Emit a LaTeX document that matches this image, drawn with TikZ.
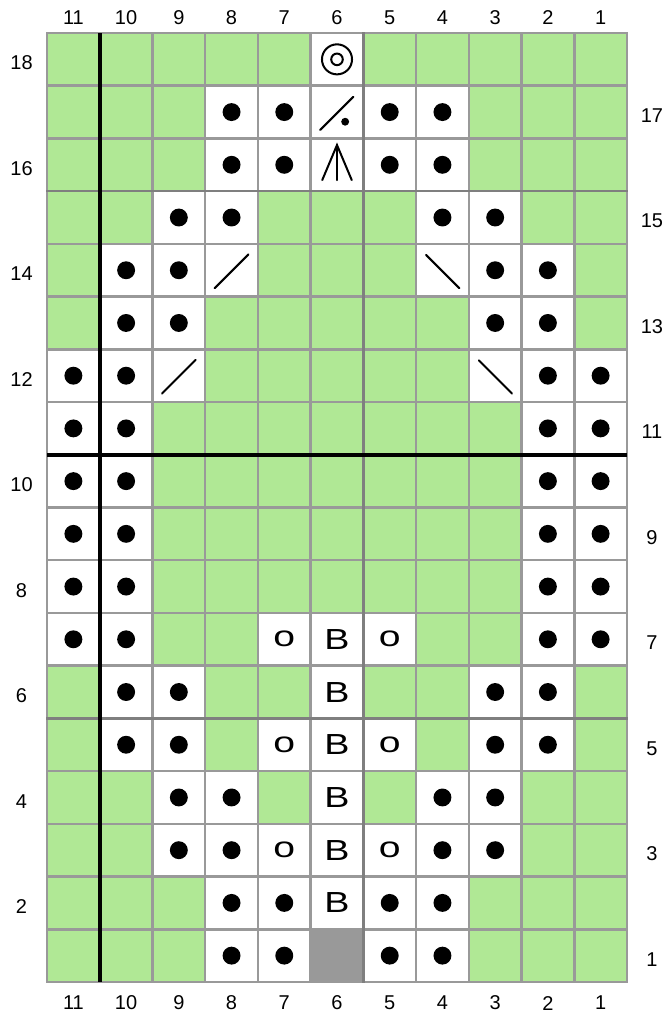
\documentclass[tikz,border=0pt]{standalone}
\usepackage{fontspec}
\setmainfont{Liberation Sans}
\usepackage{graphicx}
\definecolor{stitchgreen}{RGB}{176,232,149}
\definecolor{gridgray}{HTML}{999999}
\definecolor{repgray}{HTML}{7F7F7F}
\makeatletter
% one chart square: #1 = symbol code, #2 = column, #3 = row
\newcommand{\KCell}[3]{%
    \begin{scope}[shift={(11-#2,#3-1)}]
        \csname KCell@#1\endcsname{#2}{#3}%
    \end{scope}%
}
\def\KCell@g#1#2{\fill[stitchgreen] (0,0) rectangle (1,1);}
\def\KCell@p#1#2{\fill (.5,.5) circle (.17);}
\def\KCell@ns#1#2{\fill[gridgray] (0,0) rectangle (1,1);}
\def\KCell@yo#1#2{\node[glyph] (g#1-#2) at (.5,.5) {\scalebox{1.35}[1]{o}};}
\def\KCell@b#1#2{\node[glyph] (g#1-#2) at (.5,.5) {\scalebox{1.3}[1]{B}};}
\def\KCell@kt#1#2{\draw[sym] (.18,.16) -- (.82,.80);}
\def\KCell@ss#1#2{\draw[sym] (.19,.79) -- (.82,.16);}
\def\KCell@dp#1#2{\draw[sym] (.18,.16) -- (.81,.79); \fill (.655,.317) circle (.075);}
\def\KCell@cd#1#2{\draw[sym] (.22,.21) -- (.5,.875) -- (.78,.21); \draw[sym] (.5,.875) -- (.5,.21);}
\def\KCell@dc#1#2{\draw[sym] (.5,.5) circle (.285); \draw[sym] (.5,.5) circle (.11);}
\makeatother

\begin{document}
\begin{tikzpicture}[x=52.7pt, y=52.7pt,
    num/.style={font=\fontsize{20}{24}\selectfont, inner sep=0pt},
    glyph/.style={font=\fontsize{29}{34}\selectfont, inner sep=0pt},
    sym/.style={line width=2pt, line cap=round},
    gridline/.style={draw=gridgray, line width=2.5pt, line cap=rect},
    repline/.style={draw=repgray, line width=2.5pt, line cap=rect},
    heavyline/.style={draw=black, line width=4.3pt}]
    \useasboundingbox (-0.892,-0.645) rectangle (11.708,18.626);

    % rows top to bottom, columns 11 ... 1
    \foreach \rw/\codes in {
        18/{g,g,g,g,g,dc,g,g,g,g,g},
        17/{g,g,g,p,p,dp,p,p,g,g,g},
        16/{g,g,g,p,p,cd,p,p,g,g,g},
        15/{g,g,p,p,g,g,g,p,p,g,g},
        14/{g,p,p,kt,g,g,g,ss,p,p,g},
        13/{g,p,p,g,g,g,g,g,p,p,g},
        12/{p,p,kt,g,g,g,g,g,ss,p,p},
        11/{p,p,g,g,g,g,g,g,g,p,p},
        10/{p,p,g,g,g,g,g,g,g,p,p},
        9/{p,p,g,g,g,g,g,g,g,p,p},
        8/{p,p,g,g,g,g,g,g,g,p,p},
        7/{p,p,g,g,yo,b,yo,g,g,p,p},
        6/{g,p,p,g,g,b,g,g,p,p,g},
        5/{g,p,p,g,yo,b,yo,g,p,p,g},
        4/{g,g,p,p,g,b,g,p,p,g,g},
        3/{g,g,p,p,yo,b,yo,p,p,g,g},
        2/{g,g,g,p,p,b,p,p,g,g,g},
        1/{g,g,g,p,p,ns,p,p,g,g,g}} {
        \foreach \s [count=\i] in \codes {
            \pgfmathtruncatemacro\cn{12-\i}
            \KCell{\s}{\cn}{\rw}
        }
    }

    % grid, repeat lines, pattern borders
    \foreach \x in {0,...,11}
        \draw[gridline] (\x,0) -- (\x,18);
    \foreach \y in {0,...,18}
        \draw[gridline] (0,\y) -- (11,\y);
    \draw[repline] (6,0) -- (6,18);
    \draw[repline] (0,5) -- (11,5);
    \draw[repline] (0,15) -- (11,15);
    \draw[heavyline] (1,0) -- (1,18);
    \draw[heavyline] (0,10) -- (11,10);

    % numbering
    \foreach \c in {1,...,11} {
        \node[num] (top\c) at (11.5-\c,18.294) {\c};
        \node[num] (bot\c) at (11.5-\c,-0.40) {\c};
    }
    \foreach \rn in {2,4,...,18}
        \node[num] (row\rn) at (-0.484,\rn-0.57) {\rn};
    \foreach \rn in {1,3,...,17}
        \node[num] (row\rn) at (11.474,\rn-0.57) {\rn};
\end{tikzpicture}
\end{document}
